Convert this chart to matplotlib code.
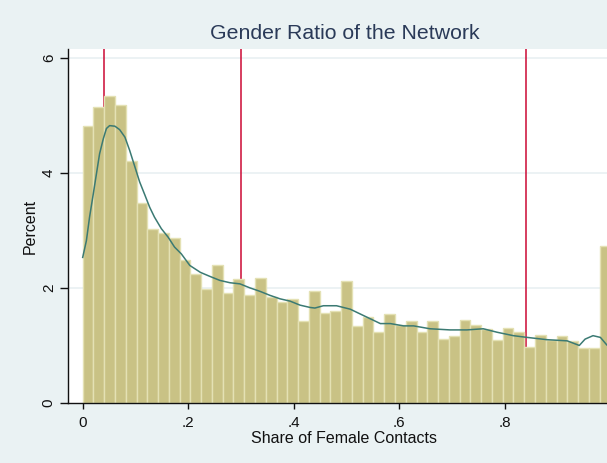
import matplotlib
matplotlib.use('Agg')
import matplotlib.pyplot as plt
import numpy as np

plt.rcParams['font.family'] = ['Liberation Sans', 'DejaVu Sans']

# histogram: 49 equal bins on [0, 1], heights in percent
n_bins = 49
bar_pct = [4.82, 5.15, 5.34, 5.18, 4.20, 3.47, 3.03, 2.96, 2.87, 2.49,
           2.24, 1.98, 2.40, 1.91, 2.15, 1.88, 2.17, 1.84, 1.75, 1.80,
           1.42, 1.94, 1.57, 1.59, 2.12, 1.33, 1.50, 1.23, 1.54, 1.35,
           1.43, 1.23, 1.42, 1.12, 1.17, 1.45, 1.36, 1.29, 1.09, 1.31,
           1.23, 0.97, 1.19, 1.10, 1.17, 1.08, 0.96, 0.96, 2.72]

# kernel density overlay (scaled to percent)
kde_x = [0.0, 0.007, 0.013, 0.020, 0.026, 0.032, 0.039, 0.045, 0.051, 0.061,
         0.070, 0.080, 0.089, 0.099, 0.108, 0.118, 0.127, 0.136, 0.149, 0.162,
         0.174, 0.187, 0.203, 0.223, 0.241, 0.260, 0.279, 0.298, 0.317, 0.336,
         0.355, 0.374, 0.393, 0.412, 0.431, 0.440, 0.456, 0.481, 0.507, 0.532,
         0.564, 0.583, 0.608, 0.627, 0.658, 0.696, 0.728, 0.759, 0.785, 0.816,
         0.842, 0.880, 0.918, 0.941, 0.952, 0.967, 0.981, 0.993]
kde_y = [2.53, 2.82, 3.23, 3.63, 3.98, 4.33, 4.59, 4.77, 4.82, 4.81,
         4.75, 4.62, 4.39, 4.10, 3.84, 3.61, 3.40, 3.23, 3.03, 2.88,
         2.71, 2.59, 2.39, 2.27, 2.20, 2.13, 2.09, 2.07, 2.00, 1.94,
         1.87, 1.81, 1.77, 1.70, 1.66, 1.65, 1.69, 1.69, 1.63, 1.52,
         1.38, 1.38, 1.34, 1.34, 1.29, 1.27, 1.27, 1.29, 1.23, 1.17,
         1.14, 1.10, 1.08, 1.00, 1.11, 1.17, 1.14, 1.01]

ref_lines = [0.04, 0.30, 0.84]

bg = '#eaf2f3'
fig = plt.figure(figsize=(6.07, 4.63), dpi=100, facecolor=bg)
ax = fig.add_axes([0.1125, 0.1296, 0.8875, 0.7644])
ax.set_facecolor('white')

w = 1.0 / n_bins
lefts = np.arange(n_bins) * w
for x in ref_lines:
    ax.axvline(x, color='#d01c44', lw=1.2, zorder=1)
ax.bar(lefts, bar_pct, width=w, align='edge', color='#c9c285',
       edgecolor='#e4e1b4', linewidth=1.0, zorder=2)
ax.plot(kde_x, kde_y, color='#3b7a73', lw=1.1, zorder=3)

ax.set_xlim(-0.0273, 0.9935)
ax.set_ylim(0, 6.15)

ax.set_yticks([0, 2, 4, 6])
ax.set_yticklabels(['0', '2', '4', '6'], rotation=90, va='center')
ax.set_xticks([0, 0.2, 0.4, 0.6, 0.8])
ax.set_xticklabels(['0', '.2', '.4', '.6', '.8'])
ax.tick_params(axis='x', length=4.5, width=1, labelsize=11, colors='#111111', pad=5)
ax.tick_params(axis='y', length=6, width=1, labelsize=11, colors='#111111', pad=3)
for y in [2, 4, 6]:
    ax.axhline(y, color='#e9f0f2', lw=1.2, zorder=0)

for s in ['top', 'right']:
    ax.spines[s].set_visible(False)
for s in ['left', 'bottom']:
    ax.spines[s].set_color('#111111')
    ax.spines[s].set_linewidth(1.0)

ax.set_xlabel('Share of Female Contacts', fontsize=11.5, color='#111111', va='center')
ax.xaxis.set_label_coords(0.512, -0.1)
ax.set_ylabel('Percent', fontsize=11.5, color='#111111', va='center')
ax.yaxis.set_label_coords(-0.071, 0.5)
fig.text(0.568, 0.928, 'Gender Ratio of the Network', ha='center', va='center',
         fontsize=15.3, color='#2a3a58')

fig.savefig('out.png', dpi=100, facecolor=bg)
